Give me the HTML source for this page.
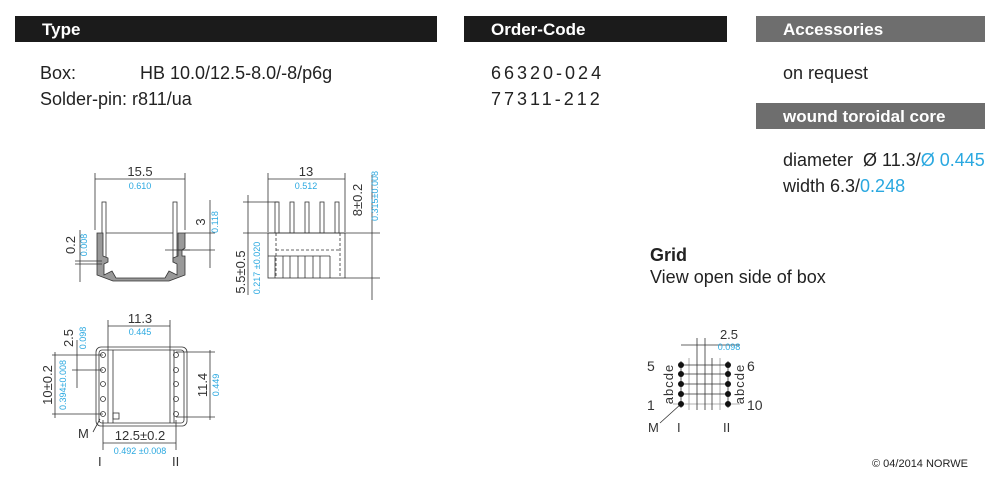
<!DOCTYPE html>
<html><head><meta charset="utf-8"><style>
body{margin:0;width:1000px;height:487px;background:#fff;font-family:"Liberation Sans",sans-serif;position:relative;overflow:hidden;color:#222}
.bar{position:absolute;height:26px;color:#fff;font-weight:bold;font-size:17px;line-height:27px;padding-left:27px;box-sizing:border-box}
.t{position:absolute;font-size:18px;white-space:nowrap}
.b{color:#2aa8e0}
</style></head><body>
<div class="bar" style="left:15px;top:16px;width:422px;background:#1b1b1b">Type</div>
<div class="bar" style="left:464px;top:16px;width:263px;background:#1b1b1b">Order-Code</div>
<div class="bar" style="left:756px;top:16px;width:229px;background:#6e6e6e">Accessories</div>
<div class="bar" style="left:756px;top:103px;width:229px;background:#6e6e6e">wound toroidal core</div>
<div class="t" style="left:40px;top:63px">Box:</div>
<div class="t" style="left:140px;top:63px">HB 10.0/12.5-8.0/-8/p6g</div>
<div class="t" style="left:40px;top:89px">Solder-pin: r811/ua</div>
<div class="t" style="left:491px;top:63px;letter-spacing:3px">66320-024</div>
<div class="t" style="left:491px;top:89px;letter-spacing:3px">77311-212</div>
<div class="t" style="left:783px;top:63px">on request</div>
<div class="t" style="left:783px;top:150px">diameter &nbsp;Ø 11.3/<span class="b">Ø 0.445</span></div>
<div class="t" style="left:783px;top:176px">width 6.3/<span class="b">0.248</span></div>
<div class="t" style="left:650px;top:245px;font-weight:bold">Grid</div>
<div class="t" style="left:650px;top:267px">View open side of box</div>
<div class="t" style="left:872px;top:458px;font-size:11px">© 04/2014 NORWE</div>
<svg width="1000" height="487" style="position:absolute;left:0;top:0" font-family="Liberation Sans" stroke-width="0.8">
<g stroke="#333" fill="none">
<line x1="95" y1="173" x2="95" y2="230"/><line x1="185" y1="173" x2="185" y2="230"/>
<line x1="95" y1="179" x2="185" y2="179"/>
<rect x="102" y="202" width="4" height="60"/><rect x="173" y="202" width="4" height="60"/>
<line x1="106" y1="233" x2="173" y2="233"/>
<path d="M97 233 H103 V256 L108 258 V262 L104 264 V275 L112 271 L116 278 H165 L169 271 L177 275 V264 L173 262 V258 L178 256 V233 H185 V248 L182 250 V256 H185 V275 L169 281 H113 L97 275 Z" fill="#999"/>
<line x1="178" y1="250" x2="190" y2="250"/><line x1="185" y1="233" x2="215" y2="233"/>
<line x1="165" y1="250" x2="215" y2="250"/><line x1="210" y1="200" x2="210" y2="268"/>
<line x1="75" y1="261" x2="102" y2="261"/><line x1="75" y1="264" x2="102" y2="264"/>
<line x1="80" y1="230" x2="80" y2="282"/>
<line x1="268" y1="173" x2="268" y2="232"/><line x1="345" y1="173" x2="345" y2="232"/>
<line x1="268" y1="179" x2="345" y2="179"/>
<rect x="275" y="202" width="4" height="31"/><rect x="290" y="202" width="4" height="31"/><rect x="305" y="202" width="4" height="31"/><rect x="320" y="202" width="4" height="31"/><rect x="335" y="202" width="4" height="31"/>
<line x1="243" y1="233" x2="380" y2="233"/>
<rect x="268" y="233" width="77" height="45"/>
<line x1="276" y1="233" x2="276" y2="278" stroke-dasharray="3 2"/><line x1="340" y1="233" x2="340" y2="278" stroke-dasharray="3 2"/>
<line x1="276" y1="250" x2="340" y2="250" stroke-dasharray="3 2"/>
<line x1="268" y1="256" x2="330" y2="256"/>
<line x1="275" y1="256" x2="275" y2="278"/><line x1="283" y1="256" x2="283" y2="278"/><line x1="290" y1="256" x2="290" y2="278"/><line x1="298" y1="256" x2="298" y2="278"/><line x1="305" y1="256" x2="305" y2="278"/><line x1="313" y1="256" x2="313" y2="278"/><line x1="320" y1="256" x2="320" y2="278"/><line x1="330" y1="256" x2="330" y2="278"/>
<line x1="243" y1="202" x2="278" y2="202"/><line x1="248" y1="195" x2="248" y2="295"/>
<line x1="345" y1="278" x2="380" y2="278"/><line x1="372" y1="175" x2="372" y2="300"/>
<rect x="96" y="347" width="91" height="79" rx="5"/><rect x="99" y="350" width="85" height="73" rx="3"/>
<line x1="108" y1="350" x2="108" y2="423"/><line x1="113" y1="350" x2="113" y2="423"/>
<line x1="170" y1="350" x2="170" y2="423"/><line x1="174" y1="350" x2="174" y2="423"/>
<rect x="113" y="413" width="6" height="6"/>
<circle cx="103" cy="355" r="2.5"/><circle cx="103" cy="370" r="2.5"/><circle cx="103" cy="384" r="2.5"/><circle cx="103" cy="399" r="2.5"/><circle cx="103" cy="414" r="2.5"/>
<circle cx="176" cy="355" r="2.5"/><circle cx="176" cy="370" r="2.5"/><circle cx="176" cy="384" r="2.5"/><circle cx="176" cy="399" r="2.5"/><circle cx="176" cy="414" r="2.5"/>
<line x1="108" y1="320" x2="108" y2="350"/><line x1="170" y1="320" x2="170" y2="350"/><line x1="108" y1="326" x2="170" y2="326"/>
<line x1="52" y1="355" x2="103" y2="355"/><line x1="52" y1="414" x2="103" y2="414"/><line x1="55" y1="352" x2="55" y2="418"/>
<line x1="72" y1="370" x2="103" y2="370"/><line x1="77" y1="340" x2="77" y2="388"/>
<line x1="176" y1="352" x2="215" y2="352"/><line x1="176" y1="417" x2="215" y2="417"/><line x1="210" y1="350" x2="210" y2="420"/>
<line x1="103" y1="420" x2="103" y2="450"/><line x1="176" y1="420" x2="176" y2="450"/><line x1="103" y1="443" x2="176" y2="443"/>
<line x1="93" y1="432" x2="100" y2="419"/>
<g stroke="#999"><line x1="689" y1="358" x2="689" y2="410"/><line x1="720" y1="358" x2="720" y2="410"/><line x1="673" y1="404" x2="740" y2="404"/></g>
<line x1="697" y1="338" x2="697" y2="410"/><line x1="705" y1="338" x2="705" y2="410"/><line x1="712" y1="358" x2="712" y2="410"/>
<line x1="681" y1="345" x2="740" y2="345"/>
<line x1="681" y1="365" x2="728" y2="365"/><line x1="681" y1="374" x2="728" y2="374"/><line x1="681" y1="384" x2="728" y2="384"/><line x1="681" y1="394" x2="728" y2="394"/>
<line x1="681" y1="361" x2="681" y2="408"/><line x1="728" y1="361" x2="728" y2="408"/>
<line x1="660" y1="423" x2="681" y2="404"/>
</g>
<g fill="#111">
<circle cx="681" cy="365" r="3"/><circle cx="681" cy="374" r="3"/><circle cx="681" cy="384" r="3"/><circle cx="681" cy="394" r="3"/><circle cx="681" cy="404" r="3"/>
<circle cx="728" cy="365" r="3"/><circle cx="728" cy="374" r="3"/><circle cx="728" cy="384" r="3"/><circle cx="728" cy="394" r="3"/><circle cx="728" cy="404" r="3"/>
</g>
<g fill="#333" font-size="13">
<text x="140" y="176" text-anchor="middle">15.5</text>
<text x="306" y="176" text-anchor="middle">13</text>
<text x="205" y="222" transform="rotate(-90 205 222)" text-anchor="middle">3</text>
<text x="75" y="245" transform="rotate(-90 75 245)" text-anchor="middle">0.2</text>
<text x="362" y="200" transform="rotate(-90 362 200)" text-anchor="middle">8±0.2</text>
<text x="245" y="272" transform="rotate(-90 245 272)" text-anchor="middle">5.5±0.5</text>
<text x="140" y="323" text-anchor="middle">11.3</text>
<text x="73" y="338" transform="rotate(-90 73 338)" text-anchor="middle">2.5</text>
<text x="52" y="385" transform="rotate(-90 52 385)" text-anchor="middle">10±0.2</text>
<text x="207" y="385" transform="rotate(-90 207 385)" text-anchor="middle">11.4</text>
<text x="140" y="440" text-anchor="middle">12.5±0.2</text>
<text x="78" y="438">M</text>
<text x="98" y="466">I</text><text x="172" y="466">II</text>
<text x="729" y="339" text-anchor="middle">2.5</text>
<text x="648" y="432">M</text><text x="677" y="432">I</text><text x="723" y="432">II</text>
</g>
<g fill="#333" font-size="14">
<text x="647" y="371">5</text><text x="647" y="410">1</text><text x="747" y="371">6</text><text x="747" y="410">10</text>
<text x="673" y="384" transform="rotate(-90 673 384)" text-anchor="middle" letter-spacing="1" font-size="13">abcde</text>
<text x="744" y="384" transform="rotate(-90 744 384)" text-anchor="middle" letter-spacing="1" font-size="13">abcde</text>
</g>
<g fill="#2aa8e0" font-size="9">
<text x="140" y="189" text-anchor="middle">0.610</text>
<text x="306" y="189" text-anchor="middle">0.512</text>
<text x="218" y="222" transform="rotate(-90 218 222)" text-anchor="middle">0.118</text>
<text x="87" y="245" transform="rotate(-90 87 245)" text-anchor="middle">0.008</text>
<text x="378" y="196" transform="rotate(-90 378 196)" text-anchor="middle">0.315±0.008</text>
<text x="260" y="268" transform="rotate(-90 260 268)" text-anchor="middle">0.217 ±0.020</text>
<text x="140" y="335" text-anchor="middle">0.445</text>
<text x="86" y="338" transform="rotate(-90 86 338)" text-anchor="middle">0.098</text>
<text x="66" y="385" transform="rotate(-90 66 385)" text-anchor="middle">0.394±0.008</text>
<text x="219" y="385" transform="rotate(-90 219 385)" text-anchor="middle">0.449</text>
<text x="140" y="454" text-anchor="middle">0.492 ±0.008</text>
<text x="729" y="350" text-anchor="middle">0.098</text>
</g>
</svg>
</body></html>
